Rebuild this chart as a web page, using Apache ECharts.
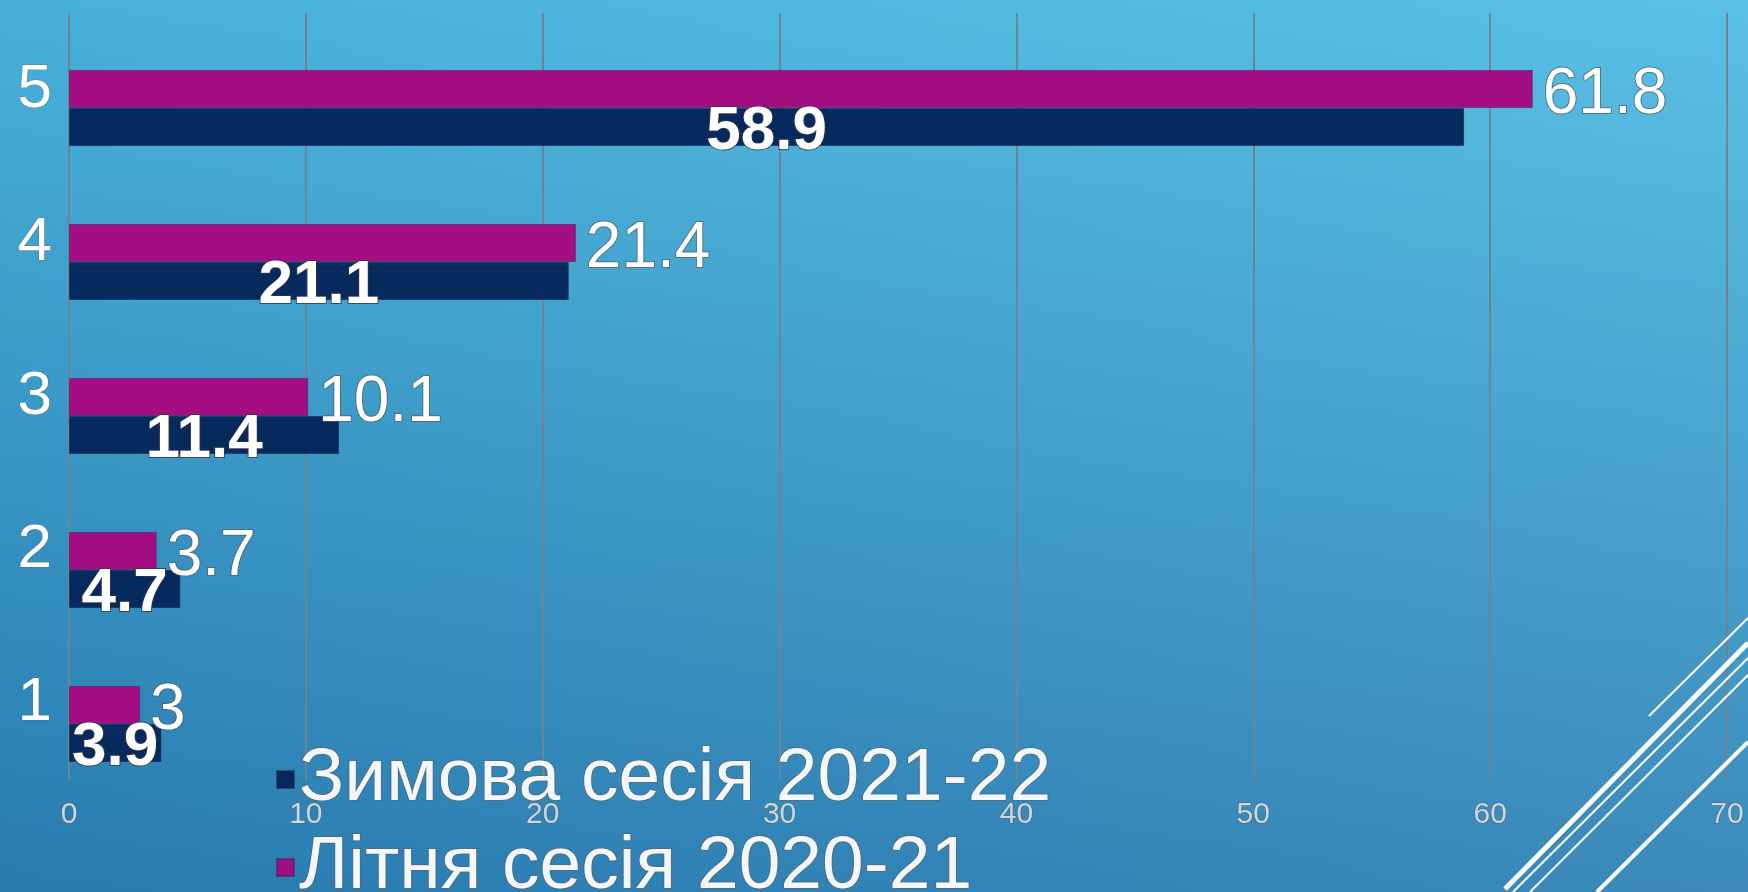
<!DOCTYPE html>
<html>
<head>
<meta charset="utf-8">
<script src="https://cdn.jsdelivr.net/npm/echarts@6/dist/echarts.min.js"></script>
<style>
html,body{margin:0;padding:0;width:1748px;height:892px;overflow:hidden;}
#chart{width:1748px;height:892px;}
</style>
</head>
<body>
<div id="chart"></div>
<script>
const categories = ['1', '2', '3', '4', '5'];
const winterName = 'Зимова сесія 2021-22';
const summerName = 'Літня сесія 2020-21';
const winterValues = [3.9, 4.7, 11.4, 21.1, 58.9];
const summerValues = [3, 3.7, 10.1, 21.4, 61.8];
const xMin = 0, xMax = 70, xStep = 10;

const FONT = "'Liberation Sans', Arial, sans-serif";
const chart = echarts.init(document.getElementById('chart'), null, {renderer: 'canvas'});

const legendText = {fontSize: 75, fontFamily: FONT, color: '#f4f7fa',
                    textBorderColor: 'rgba(90,100,110,0.7)', textBorderWidth: 2};

const option = {
  animation: false,
  backgroundColor: {
    type: 'linear', x: 0, y: 0, x2: 0, y2: 1,
    colorStops: [{offset: 0, color: '#4cbbe2'}, {offset: 1, color: '#2a80b5'}]
  },
  graphic: [
    {type: 'rect', z: -10, silent: true, shape: {x: 0, y: 0, width: 1748, height: 892},
     style: {fill: {type: 'linear', x: 0, y: 0, x2: 1, y2: 0,
       colorStops: [{offset: 0, color: 'rgba(20,60,110,0.08)'}, {offset: 1, color: 'rgba(255,255,255,0.08)'}]}}},
    {type: 'line', z: 100, silent: true, shape: {x1: 1649, y1: 716, x2: 1748, y2: 618}, style: {stroke: '#fff', lineWidth: 2}},
    {type: 'line', z: 100, silent: true, shape: {x1: 1505, y1: 889, x2: 1748, y2: 643}, style: {stroke: '#fff', lineWidth: 5}},
    {type: 'line', z: 100, silent: true, shape: {x1: 1513, y1: 892, x2: 1748, y2: 658}, style: {stroke: '#fff', lineWidth: 2}},
    {type: 'line', z: 100, silent: true, shape: {x1: 1530, y1: 892, x2: 1748, y2: 675}, style: {stroke: '#fff', lineWidth: 2}},
    {type: 'line', z: 100, silent: true, shape: {x1: 1597, y1: 892, x2: 1748, y2: 742}, style: {stroke: '#fff', lineWidth: 4}}
  ],
  grid: [
    {left: 69, right: 21, top: 13, bottom: 112},
    {left: 69, right: 21, top: 31, bottom: 91}
  ],
  xAxis: [
    {type: 'value', gridIndex: 0, min: xMin, max: xMax, interval: xStep,
     axisLine: {show: false}, axisTick: {show: false},
     splitLine: {show: true, lineStyle: {color: '#6c8494', width: 2}},
     axisLabel: {fontSize: 30, fontFamily: FONT, color: '#c8d8e2', margin: 20,
                 textBorderColor: 'rgba(90,100,110,0.7)', textBorderWidth: 1.5}},
    {type: 'value', gridIndex: 1, min: xMin, max: xMax, interval: xStep, show: false}
  ],
  yAxis: [
    {type: 'category', gridIndex: 0, data: categories,
     axisLine: {show: false}, axisTick: {show: false}, splitLine: {show: false},
     axisLabel: {fontSize: 62, fontFamily: FONT, color: '#ffffff', margin: 17, padding: [16, 0, 0, 0],
                 textBorderColor: 'rgba(90,100,110,0.6)', textBorderWidth: 1}},
    {type: 'category', gridIndex: 1, data: categories, show: false}
  ],
  legend: [
    {orient: 'vertical', left: 276, top: 741, padding: 0, itemGap: 0,
     itemWidth: 17, itemHeight: 17, icon: 'rect', data: [winterName], textStyle: legendText},
    {orient: 'vertical', left: 276, top: 829, padding: 0, itemGap: 0,
     itemWidth: 17, itemHeight: 17, icon: 'rect', data: [summerName], textStyle: legendText}
  ],
  series: [
    {
      name: summerName, type: 'bar', xAxisIndex: 1, yAxisIndex: 1,
      data: summerValues, barWidth: 38, barGap: '0%',
      itemStyle: {color: '#a50e82', borderColor: 'rgba(60,30,80,0.5)', borderWidth: 1},
      label: {show: true, position: 'right', distance: 10, offset: [0, 6], color: '#ffffff', fontSize: 64, fontFamily: FONT,
              textBorderColor: 'rgba(80,90,100,0.7)', textBorderWidth: 2}
    },
    {
      name: winterName, type: 'bar', xAxisIndex: 1, yAxisIndex: 1,
      data: winterValues, barWidth: 38, barGap: '0%',
      itemStyle: {color: '#072a5e', borderColor: 'rgba(20,30,60,0.5)', borderWidth: 1},
      label: {show: true, position: 'inside', offset: [0, 5], color: '#ffffff', fontSize: 62, fontWeight: 'bold', fontFamily: FONT,
              textBorderColor: 'rgba(50,55,70,0.8)', textBorderWidth: 2}
    }
  ]
};
chart.setOption(option);
</script>
</body>
</html>
